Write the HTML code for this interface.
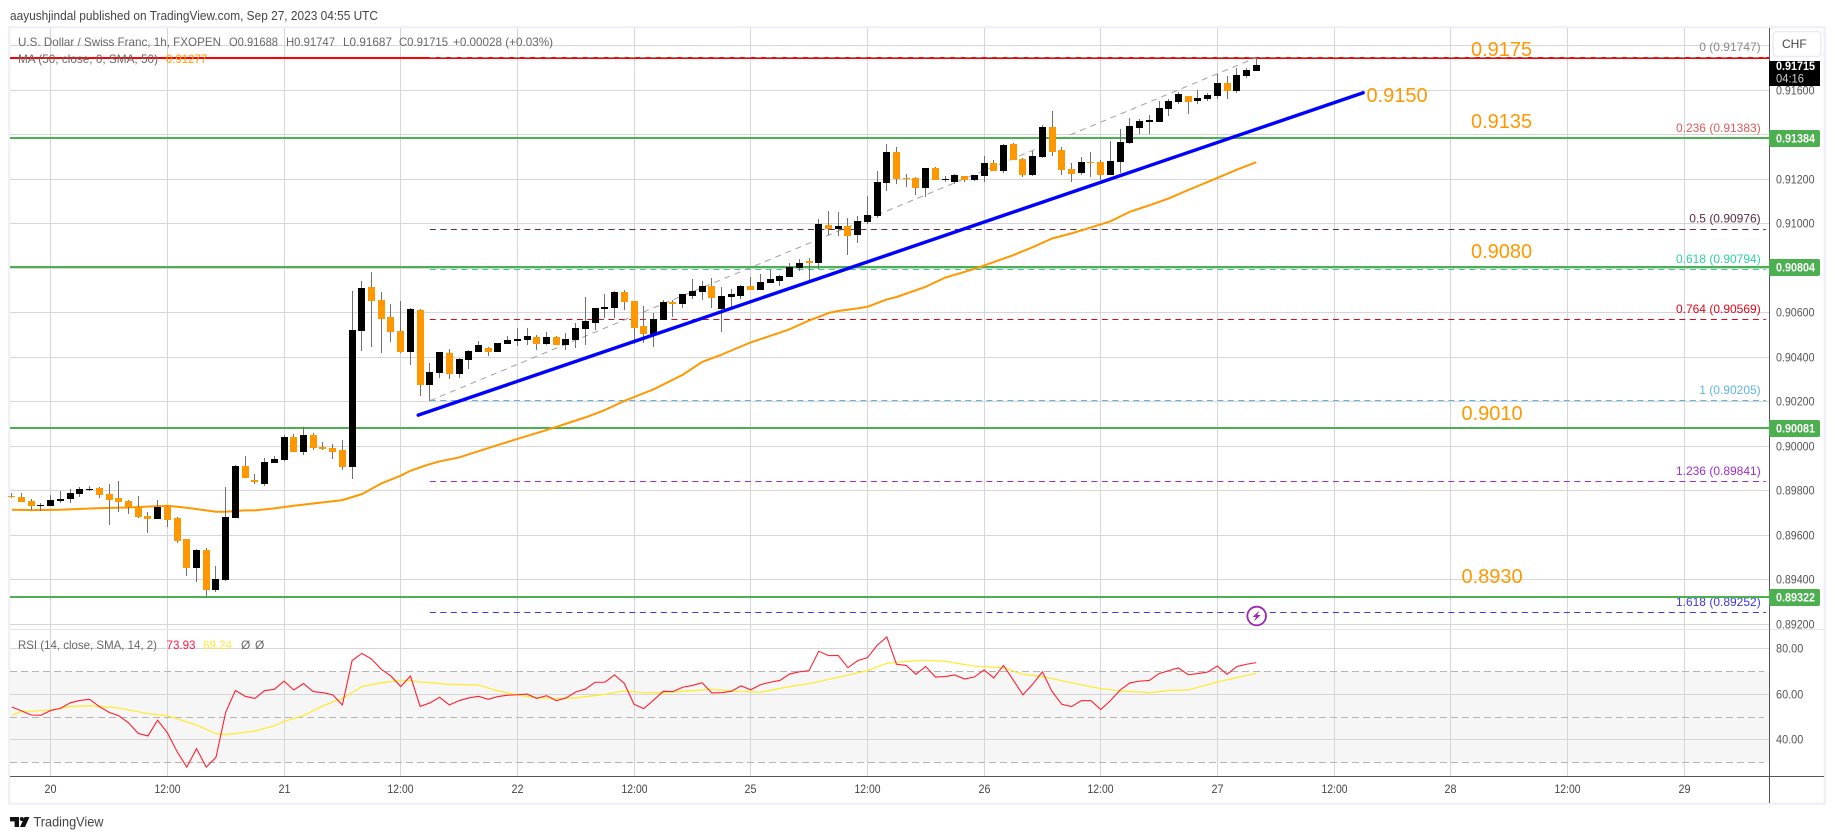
<!DOCTYPE html>
<html lang="en">
<head>
<meta charset="utf-8">
<title>USD/CHF 1h chart</title>
<style>
html,body{margin:0;padding:0;background:#fff;width:1835px;height:839px;overflow:hidden}
svg{display:block;font-family:"Liberation Sans",sans-serif}
</style>
</head>
<body>
<svg id="chart" xmlns="http://www.w3.org/2000/svg" width="1835" height="839" viewBox="0 0 1835 839">
  <rect x="0" y="0" width="1835" height="839" fill="#ffffff"/>
  <text x="10" y="20" font-size="13" fill="#444" textLength="368" lengthAdjust="spacingAndGlyphs">aayushjindal published on TradingView.com, Sep 27, 2023 04:55 UTC</text>
  <rect x="9.2" y="27.2" width="1815.6" height="776.6" fill="#ffffff" stroke="#f0f1f7" stroke-width="2.4"/>
  <g id="lower"></g>
  <g id="candles"></g>
  <g id="upper"></g>
  <g id="legend" font-size="12">
    <text x="18" y="46" fill="#666" textLength="203" lengthAdjust="spacingAndGlyphs">U.S. Dollar / Swiss Franc, 1h, FXOPEN</text>
    <text x="229" y="46" fill="#666" textLength="49" lengthAdjust="spacingAndGlyphs">O0.91688</text>
    <text x="286" y="46" fill="#666" textLength="49" lengthAdjust="spacingAndGlyphs">H0.91747</text>
    <text x="343" y="46" fill="#666" textLength="49" lengthAdjust="spacingAndGlyphs">L0.91687</text>
    <text x="399" y="46" fill="#666" textLength="49" lengthAdjust="spacingAndGlyphs">C0.91715</text>
    <text x="453" y="46" fill="#666" textLength="100" lengthAdjust="spacingAndGlyphs">+0.00028 (+0.03%)</text>
    <text x="18" y="63" fill="#666" textLength="140" lengthAdjust="spacingAndGlyphs">MA (50, close, 0, SMA, 50)</text>
    <text x="166" y="63" fill="#ff9800" textLength="41" lengthAdjust="spacingAndGlyphs">0.91277</text>
    <text x="18" y="649" fill="#666" textLength="139" lengthAdjust="spacingAndGlyphs">RSI (14, close, SMA, 14, 2)</text>
    <text x="166.5" y="649" fill="#ff1744" textLength="29" lengthAdjust="spacingAndGlyphs">73.93</text>
    <text x="203" y="649" fill="#ffeb3b" textLength="29" lengthAdjust="spacingAndGlyphs">69.24</text>
    <text x="241" y="649" fill="#666">Ø</text>
    <text x="255" y="649" fill="#666">Ø</text>
  </g>
  <g font-size="20" fill="#ff9800">
    <text x="1471" y="56">0.9175</text>
    <text x="1366.5" y="102">0.9150</text>
    <text x="1471" y="128">0.9135</text>
    <text x="1471" y="258">0.9080</text>
    <text x="1461.5" y="420">0.9010</text>
    <text x="1461.5" y="583">0.8930</text>
  </g>
  <g>
    <rect x="1773" y="31.5" width="48" height="25" rx="4" fill="#ffffff" stroke="#e9ebf2" stroke-width="1.5"/>
    <text x="1782" y="48" font-size="12" fill="#444">CHF</text>
  </g>
  <g>
    <rect x="1769" y="61" width="51" height="25" fill="#000000"/>
    <text x="1776" y="70" font-size="12" font-weight="bold" fill="#ffffff" textLength="39" lengthAdjust="spacingAndGlyphs">0.91715</text>
    <text x="1776" y="82.5" font-size="12" fill="#cfcfcf" textLength="28" lengthAdjust="spacingAndGlyphs">04:16</text>
  </g>
  <g>
    <circle cx="1256.7" cy="616" r="9.3" fill="#ffffff" stroke="#9c27b0" stroke-width="1.8"/>
    <polygon points="1259.5,610.5 1252.5,617 1256,617 1253.8,621.5 1260.8,615 1257.2,615" fill="#9c27b0"/>
  </g>
  <g>
    <path d="M10 817h9v10h-4.4v-5.6H10z" fill="#111"/>
    <circle cx="21.8" cy="819" r="2" fill="#111"/>
    <polygon points="24.5,817 29.5,817 25,827 20,827" fill="#111"/>
    <text x="33.5" y="826.5" font-size="14" fill="#444" textLength="70" lengthAdjust="spacingAndGlyphs">TradingView</text>
  </g>
</svg>
<script>
/* ---------- chart data ---------- */
const firstBarHour = -4;
const opens = [0.89778,0.89772,0.89754,0.89731,0.89731,0.89754,0.89763,0.89785,0.89803,0.89812,0.89785,0.89767,0.89754,0.89727,0.89687,0.89673,0.89727,0.89678,0.89583,0.89453,0.89534,0.89354,0.89399,0.89678,0.89911,0.89848,0.89830,0.89925,0.89938,0.90042,0.89974,0.90051,0.89997,0.89992,0.89983,0.89907,0.90518,0.90716,0.90657,0.90581,0.90518,0.90424,0.90612,0.90275,0.90329,0.90419,0.90325,0.90388,0.90424,0.90442,0.90424,0.90460,0.90473,0.90478,0.90491,0.90460,0.90491,0.90455,0.90478,0.90527,0.90554,0.90617,0.90621,0.90693,0.90653,0.90541,0.90505,0.90568,0.90648,0.90639,0.90675,0.90693,0.90720,0.90617,0.90671,0.90675,0.90720,0.90702,0.90734,0.90743,0.90761,0.90801,0.90833,0.90824,0.90994,0.90976,0.90990,0.90949,0.91008,0.91035,0.91183,0.91322,0.91206,0.91206,0.91161,0.91250,0.91197,0.91188,0.91215,0.91197,0.91215,0.91273,0.91237,0.91358,0.91291,0.91219,0.91300,0.91435,0.91331,0.91246,0.91228,0.91277,0.91277,0.91219,0.91277,0.91363,0.91430,0.91457,0.91457,0.91516,0.91547,0.91574,0.91552,0.91561,0.91574,0.91633,0.91597,0.91664,0.91688];
const highs = [0.89790,0.89790,0.89763,0.89745,0.89781,0.89799,0.89808,0.89817,0.89821,0.89817,0.89830,0.89844,0.89758,0.89776,0.89705,0.89758,0.89731,0.89682,0.89583,0.89538,0.89543,0.89462,0.89817,0.89916,0.89956,0.89875,0.89947,0.89956,0.90051,0.90055,0.90087,0.90060,0.90019,0.90010,0.90028,0.90698,0.90743,0.90783,0.90693,0.90639,0.90653,0.90621,0.90617,0.90374,0.90424,0.90437,0.90397,0.90433,0.90473,0.90446,0.90464,0.90496,0.90532,0.90532,0.90500,0.90514,0.90496,0.90509,0.90554,0.90671,0.90621,0.90684,0.90698,0.90702,0.90653,0.90630,0.90599,0.90657,0.90657,0.90684,0.90752,0.90743,0.90756,0.90716,0.90707,0.90725,0.90761,0.90774,0.90792,0.90770,0.90824,0.90842,0.90846,0.91021,0.91057,0.91053,0.91026,0.91035,0.91125,0.91237,0.91358,0.91345,0.91224,0.91210,0.91250,0.91255,0.91215,0.91224,0.91215,0.91219,0.91304,0.91286,0.91358,0.91363,0.91295,0.91327,0.91444,0.91507,0.91345,0.91273,0.91300,0.91322,0.91286,0.91372,0.91426,0.91475,0.91471,0.91489,0.91552,0.91561,0.91592,0.91574,0.91601,0.91588,0.91673,0.91664,0.91700,0.91700,0.91747];
const lows = [0.89769,0.89749,0.89713,0.89710,0.89731,0.89745,0.89745,0.89772,0.89799,0.89767,0.89646,0.89705,0.89696,0.89678,0.89610,0.89673,0.89637,0.89565,0.89417,0.89390,0.89321,0.89345,0.89394,0.89678,0.89857,0.89830,0.89821,0.89925,0.89934,0.89974,0.89961,0.89983,0.89983,0.89943,0.89893,0.89853,0.90428,0.90446,0.90419,0.90468,0.90419,0.90365,0.90226,0.90205,0.90307,0.90302,0.90307,0.90347,0.90424,0.90406,0.90424,0.90460,0.90451,0.90455,0.90433,0.90455,0.90455,0.90433,0.90442,0.90455,0.90523,0.90577,0.90577,0.90612,0.90460,0.90464,0.90446,0.90568,0.90581,0.90621,0.90662,0.90657,0.90621,0.90514,0.90612,0.90662,0.90702,0.90702,0.90734,0.90720,0.90761,0.90788,0.90738,0.90797,0.90949,0.90945,0.90859,0.90913,0.90999,0.91026,0.91147,0.91179,0.91165,0.91129,0.91120,0.91197,0.91188,0.91179,0.91188,0.91192,0.91188,0.91237,0.91228,0.91286,0.91210,0.91215,0.91295,0.91304,0.91219,0.91188,0.91219,0.91210,0.91197,0.91219,0.91228,0.91358,0.91403,0.91403,0.91457,0.91484,0.91538,0.91493,0.91538,0.91552,0.91561,0.91561,0.91588,0.91655,0.91687];
const closes = [0.89772,0.89749,0.89731,0.89736,0.89758,0.89763,0.89790,0.89808,0.89808,0.89781,0.89758,0.89749,0.89727,0.89682,0.89673,0.89727,0.89669,0.89574,0.89453,0.89534,0.89354,0.89403,0.89682,0.89911,0.89857,0.89839,0.89929,0.89943,0.90042,0.89974,0.90051,0.89992,0.89988,0.89974,0.89907,0.90522,0.90711,0.90653,0.90572,0.90513,0.90424,0.90617,0.90275,0.90334,0.90424,0.90325,0.90392,0.90428,0.90455,0.90424,0.90464,0.90478,0.90482,0.90496,0.90460,0.90491,0.90455,0.90482,0.90532,0.90563,0.90621,0.90626,0.90693,0.90648,0.90532,0.90505,0.90572,0.90648,0.90639,0.90684,0.90698,0.90720,0.90666,0.90675,0.90684,0.90720,0.90702,0.90738,0.90752,0.90765,0.90806,0.90824,0.90824,0.90999,0.90976,0.90990,0.90945,0.91012,0.91039,0.91188,0.91322,0.91201,0.91201,0.91161,0.91250,0.91197,0.91201,0.91219,0.91197,0.91219,0.91273,0.91237,0.91354,0.91286,0.91219,0.91304,0.91435,0.91322,0.91241,0.91224,0.91277,0.91273,0.91219,0.91282,0.91367,0.91439,0.91462,0.91466,0.91520,0.91552,0.91583,0.91547,0.91565,0.91579,0.91633,0.91597,0.91669,0.91691,0.91715];
const maHours = [-4,-2,1,5,8,11,12,14,16,17,18,20,21,23,25,27,30,32,34,36,37,39,40,42,46,48,51,55,57,59,62,65,67,69,72,74,76,78,80,81,83,84,86,87,90,92,95,97,99,101,103,105,108,109,111,113,115,117,120,122,124];
const maValues = [0.89715,0.89713,0.89715,0.89722,0.89725,0.89731,0.89733,0.89724,0.89712,0.89706,0.89706,0.89712,0.89712,0.89721,0.89733,0.89743,0.89758,0.89785,0.89833,0.89868,0.89890,0.89920,0.89932,0.89950,0.90006,0.90033,0.90073,0.90130,0.90163,0.90204,0.90256,0.90321,0.90379,0.90412,0.90467,0.90496,0.90526,0.90565,0.90599,0.90608,0.90620,0.90627,0.90660,0.90671,0.90717,0.90758,0.90797,0.90828,0.90859,0.90895,0.90934,0.90957,0.90997,0.91011,0.91054,0.91083,0.91114,0.91152,0.91206,0.91243,0.91277];
const rsiValues = [54.4,52.7,50.9,50.8,52.9,53.8,56.2,57.3,57.8,54.6,52.1,50.6,47.5,42.8,41.7,48.6,43.1,34.8,28.0,36.1,28.0,32.3,52.1,61.7,59.1,58.2,61.6,62.2,65.8,61.9,64.7,61.2,60.7,59.8,55.3,74.8,78.0,75.5,71.0,68.0,63.4,68.0,54.7,56.2,58.7,55.3,57.2,58.4,59.1,57.8,59.0,59.6,59.8,60.1,58.2,59.4,57.2,58.4,61.0,62.3,65.3,65.3,68.5,64.8,55.6,53.7,57.4,61.3,61.2,63.1,63.9,65.1,60.6,60.7,61.3,63.7,62.0,64.2,65.3,66.1,68.9,69.9,70.4,78.9,77.0,77.1,71.7,74.8,76.1,81.5,85.2,73.2,72.7,68.8,72.2,67.6,67.8,68.5,66.7,67.6,70.7,67.2,72.7,66.3,59.8,64.4,69.9,61.2,55.6,54.6,57.2,57.2,53.3,57.2,61.9,65.0,65.8,66.1,69.1,70.4,71.6,68.6,69.1,69.8,72.4,68.8,72.2,73.2,73.93];
const rsiMaHours = [-4,-3,0,2,4,7,10,12,14,15,17,18,20,21,23,24,26,28,30,32,34,36,37,38,41,44,46,48,50,52,54,57,59,61,63,68,70,73,76,78,81,84,86,88,90,92,95,98,100,102,105,108,110,113,115,117,120,124];
const rsiMaValues = [50.9,52.4,53.1,54.6,55.0,54.0,51.5,50.6,47.8,46.5,42.7,42.3,43.3,43.9,46.1,48.1,50.6,54.9,58.2,63.4,65.1,66.0,66.1,65.4,64.4,64.1,61.5,59.7,58.5,58.1,58.4,60.0,61.5,60.7,60.7,62.2,61.5,60.9,63.4,64.7,67.5,70.4,73.6,74.5,74.9,74.5,72.4,71.7,68.8,67.8,65.1,62.5,61.5,60.7,61.7,61.9,65.4,69.24];
const priceTicks = [0.918,0.916,0.914,0.912,0.910,0.908,0.906,0.904,0.902,0.900,0.898,0.896,0.894,0.892];
const rsiTicks = [80,60,40];
const rsiBandLevels = [70,50,30];
const timeTickHours = [0,12,24,36,48,60,72,84,96,108,120,132,144,156,168,180];
const timeTickLabels = ['20','12:00','21','12:00','22','12:00','25','12:00','26','12:00','27','12:00','28','12:00','29'];
const horizontalRedPrices = [0.91747];
const supportPrices = [0.91384,0.90804,0.90081,0.89322];
const fibRatios = ['0','0.236','0.5','0.618','0.764','1','1.236','1.618'];
const fibPrices = [0.91747,0.91383,0.90976,0.90794,0.90569,0.90205,0.89841,0.89252];
const fibStartHour = 39;
const fibEndHour = 124;
const trendHours = [37.8,135];
const trendPrices = [0.90140,0.91589];

/* ---------- axis functions ---------- */
const PLOT_L = 10, PLOT_R = 1769, PANE_SEP = 629, PLOT_B = 776;
function xOf(h){ return 50.7 + 9.7222*h; }
function yOf(p){ return 90.3 + (0.916 - p)*22250; }
function yRsi(r){ return 694.3 + (60 - r)*2.275; }

const NS = 'http://www.w3.org/2000/svg';
function el(tag, attrs, parent){
  const n = document.createElementNS(NS, tag);
  for (const k in attrs) n.setAttribute(k, attrs[k]);
  parent.appendChild(n);
  return n;
}
const lower = document.getElementById('lower');
const candleG = document.getElementById('candles');
const upper = document.getElementById('upper');

/* RSI band */
const band = el('rect',{x:PLOT_L,y:yRsi(rsiBandLevels[0]),width:PLOT_R-PLOT_L,height:yRsi(rsiBandLevels[2])-yRsi(rsiBandLevels[0]),fill:'#f6f6f6'},lower);



/* grid */
priceTicks.forEach(function(p){
  const y = Math.floor(yOf(p));
  const g = el('rect',{x:PLOT_L,y:y,width:PLOT_R-PLOT_L,height:1,fill:'#d6d6d6'},lower);
  
  
});
rsiTicks.forEach(function(r){
  const y = Math.floor(yRsi(r));
  const g = el('rect',{x:PLOT_L,y:y,width:PLOT_R-PLOT_L,height:1,fill:'#d6d6d6'},lower);
  
  
});
timeTickLabels.forEach(function(lbl,i){
  const x = Math.floor(xOf(timeTickHours[i]));
  const g = el('rect',{x:x,y:28,width:1,height:PLOT_B-28,fill:'#d6d6d6'},lower);
  
  
  const t = el('text',{x:x+0.5,y:793,'font-size':12,fill:'#444','text-anchor':'middle',textLength:lbl.length>2?26:12,lengthAdjust:'spacingAndGlyphs'},lower);
  t.textContent = lbl;
  
  
});

/* pane separator and axes */
const sep = el('rect',{x:PLOT_L,y:PANE_SEP,width:1815,height:1,fill:'#e4e4ea'},lower);


const xAxis = el('rect',{x:PLOT_L,y:PLOT_B,width:1814,height:1,fill:'#555'},lower);


const yAxis = el('rect',{x:PLOT_R,y:28,width:1,height:775,fill:'#555'},lower);



/* RSI band dashes */
rsiBandLevels.forEach(function(r){
  const y = Math.floor(yRsi(r))+0.5;
  const d = el('line',{x1:PLOT_L,x2:1764,y1:y,y2:y,stroke:'#b5b5b5','stroke-width':1,'stroke-dasharray':'7 4'},lower);
  
  
});

/* resistance line sits under the fib dashes */
horizontalRedPrices.forEach(function(p){
  const r = el('rect',{x:PLOT_L,y:Math.round(yOf(p)-1),width:PLOT_R-PLOT_L,height:2,fill:'#ff0000'},lower);
  
  
});

/* fib levels */
const fibColors = ['#8a8a8a','#dd5b5b','#5a2a4a','#2fd0a0','#d8081f','#5fb4e4','#9b2ed0','#3a3ad4'];
fibPrices.forEach(function(p,i){
  const y = Math.floor(yOf(p))+0.5;
  const l = el('line',{x1:xOf(fibStartHour),x2:1766,y1:y,y2:y,stroke:fibColors[i],'stroke-width':1,'stroke-dasharray':'6 4.5'},lower);
  
  
  const t = el('text',{x:1760.7,y:yOf(p)-6.5,'font-size':12,fill:fibColors[i],'text-anchor':'end'},lower);
  t.textContent = fibRatios[i] + ' (' + p.toFixed(5) + ')';
  
  
});
const fibDiag = el('line',{x1:xOf(fibStartHour),y1:yOf(fibPrices[5]),x2:xOf(fibEndHour),y2:yOf(fibPrices[0]),stroke:'#a0a0a0','stroke-width':1,'stroke-dasharray':'6 5'},lower);



/* support lines */
supportPrices.forEach(function(p){
  const r = el('rect',{x:PLOT_L,y:Math.round(yOf(p)-1),width:PLOT_R-PLOT_L,height:2,fill:'#4caf50'},lower);
  
  
});

/* moving average */
function pointsFrom(hours, vals, yFn){
  return hours.map(function(h,i){ return xOf(h).toFixed(2)+','+yFn(vals[i]).toFixed(2); }).join(' ');
}
const maLine = el('polyline',{points:pointsFrom(maHours,maValues,yOf),fill:'none',stroke:'#ff9800','stroke-width':2,'stroke-linejoin':'round'},lower);



/* candles */
closes.forEach(function(c,i){
  const o = opens[i], h = highs[i], l = lows[i];
  const cx = Math.floor(xOf(firstBarHour+i));
  const up = c >= o;
  const top = Math.round(yOf(Math.max(o,c)));
  const bot = Math.round(yOf(Math.min(o,c)));
  const wt = Math.round(yOf(h));
  const wb = Math.round(yOf(l));
  const wick = el('rect',{x:cx,y:wt,width:1,height:Math.max(1,wb-wt),fill:'#707070'},candleG);
  
  
  const body = el('rect',{x:cx-3,y:top,width:7,height:Math.max(1,bot-top),fill:up?'#000000':'#ff9800'},candleG);
  
  
});

/* trend line */
const trend = el('line',{x1:xOf(trendHours[0]),y1:yOf(trendPrices[0]),x2:xOf(trendHours[1]),y2:yOf(trendPrices[1]),stroke:'#0000ff','stroke-width':3.4,'stroke-linecap':'round'},upper);



/* RSI lines */
const rsiHours = rsiValues.map(function(_,i){ return firstBarHour+i; });
const rsiMaLine = el('polyline',{points:pointsFrom(rsiMaHours,rsiMaValues,yRsi),fill:'none',stroke:'#ffeb3b','stroke-width':1.3},upper);


const rsiLine = el('polyline',{points:pointsFrom(rsiHours,rsiValues,yRsi),fill:'none',stroke:'#ff1f2f','stroke-width':1.1},upper);



/* axis labels */
priceTicks.forEach(function(p){
  const t = el('text',{x:1776,y:Math.floor(yOf(p))+4.5,'font-size':12,fill:'#555',textLength:38.5,lengthAdjust:'spacingAndGlyphs'},upper);
  t.textContent = p.toFixed(5);
  
  
});
rsiTicks.forEach(function(r){
  const t = el('text',{x:1776,y:Math.floor(yRsi(r))+4.5,'font-size':12,fill:'#555',textLength:27.3,lengthAdjust:'spacingAndGlyphs'},upper);
  t.textContent = r.toFixed(2);
  
  
});

/* support price tags */
supportPrices.forEach(function(p){
  const y = Math.round(yOf(p));
  const b = el('rect',{x:1769,y:y-8,width:51,height:17,rx:2,fill:'#4caf50'},upper);
  
  
  const t = el('text',{x:1776,y:y+4.5,'font-size':12,'font-weight':'bold',fill:'#ffffff',textLength:39,lengthAdjust:'spacingAndGlyphs'},upper);
  t.textContent = p.toFixed(5);
  
  
});
</script>
</body>
</html>
